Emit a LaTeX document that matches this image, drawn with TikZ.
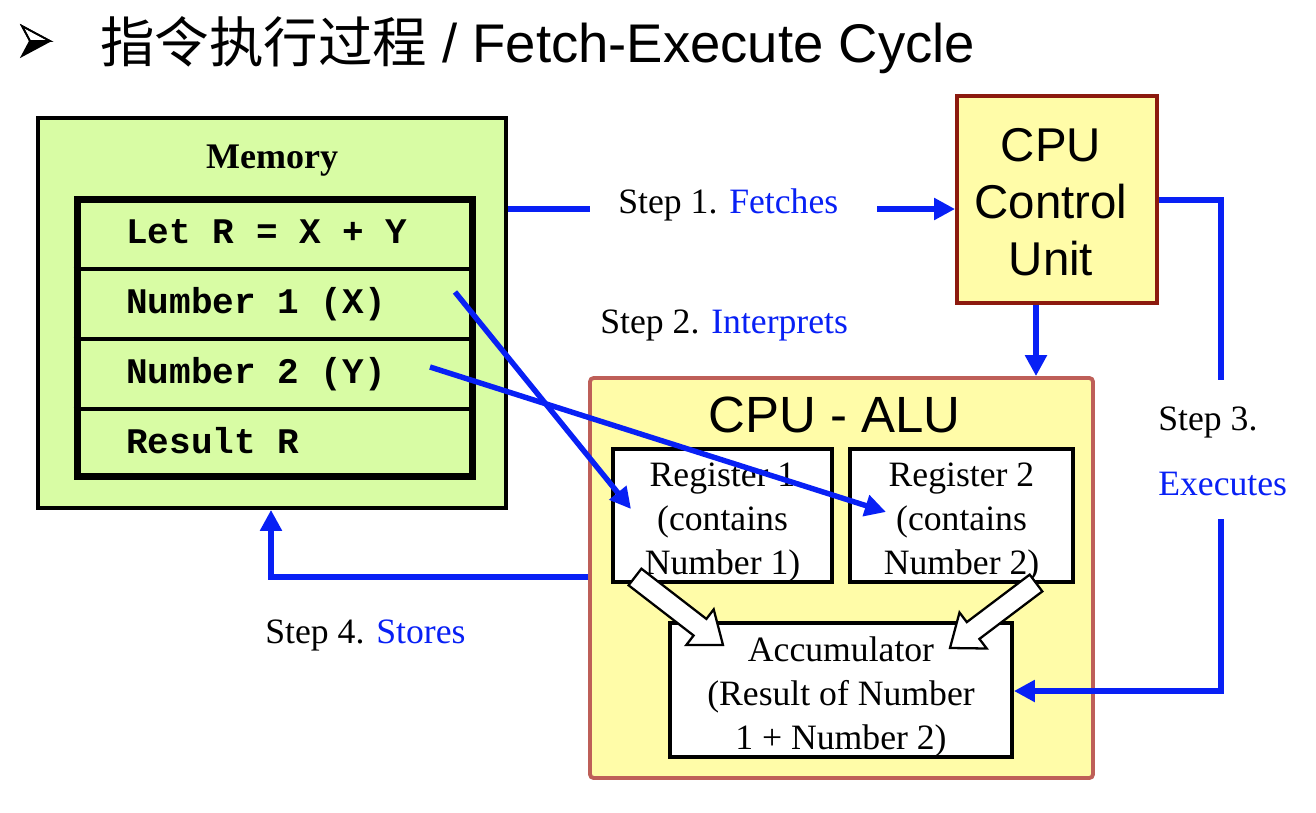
\documentclass[tikz,border=0pt]{standalone}
\usepackage{fontspec}
\setmainfont{Liberation Serif}
\newfontfamily\arialf{Liberation Sans}
\newfontfamily\monof{Liberation Mono}
\newfontfamily\cjkf{Noto Sans CJK SC}
\usetikzlibrary{arrows.meta}
\definecolor{stepblue}{RGB}{8,32,245}
\definecolor{memgreen}{RGB}{216,252,164}
\definecolor{cpuyellow}{RGB}{255,252,168}
\definecolor{cured}{RGB}{140,26,14}
\definecolor{alurose}{RGB}{190,95,88}
\begin{document}
\begin{tikzpicture}[x=0.02cm,y=-0.02cm,
  flow/.style={draw=stepblue, line width=3.1pt},
  flowarrow/.style={flow, -{Triangle[length=12pt,width=12pt]}},
  serif/.style={font=\fontsize{20.3}{25}\selectfont},
  steplabel/.style={serif, anchor=base west, inner sep=0pt},
  rowtext/.style={font=\monof\bfseries\fontsize{20.5}{24}\selectfont, anchor=base west, inner sep=0pt},
  whitebox/.style={draw=black, line width=2.2pt, fill=white, inner sep=0pt},
  boxtext/.style={serif, align=center, yshift=-4pt},
  blockarrow/.style={draw=black, line width=1.3pt, fill=white, line join=miter},
]
\useasboundingbox (0,0) rectangle (1316,812);
\fill[white] (0,0) rectangle (1316,812);

% title bullet (3-D arrowhead)
\coordinate (bt) at (22,26);
\coordinate (bn) at (30,41);
\coordinate (bp) at (50,41);
\coordinate (bb) at (22,56);
\fill[black] (bn) -- (bp) -- (bb) -- cycle;
\draw[black, line width=1pt, fill=white, line join=miter] (bt) -- (bp) -- (bn) -- cycle;
\draw[black, line width=1pt, line join=miter] (bt) -- (bp) -- (bb) -- (bn) -- cycle;
\node[anchor=base west, inner sep=0pt] (title) at (100,62)
  {\fontsize{31}{31}\selectfont\cjkf 指令执行过程\arialf{} / Fetch-Execute Cycle};

% memory
\node[draw=black, line width=2.2pt, fill=memgreen, minimum width=9.36cm, minimum height=7.8cm, inner sep=0pt]
  (mem) at (272,313) {};
\node[font=\bfseries\fontsize{20.5}{24}\selectfont, anchor=base, inner sep=0pt] (memtitle) at (272,168) {Memory};
\node[draw=black, line width=4pt, minimum width=7.92cm, minimum height=5.56cm, inner sep=0pt]
  (tbl) at (275,338) {};
\coordinate (l1) at (0,269);
\coordinate (l2) at (0,339);
\coordinate (l3) at (0,409);
\draw[line width=2.2pt] (tbl.west |- l1) -- (tbl.east |- l1);
\draw[line width=2.2pt] (tbl.west |- l2) -- (tbl.east |- l2);
\draw[line width=2.2pt] (tbl.west |- l3) -- (tbl.east |- l3);
\node[rowtext] (r1) at (126,243) {Let R = X + Y};
\node[rowtext] (r2) at (126,313) {Number 1 (X)};
\node[rowtext] (r3) at (126,383) {Number 2 (Y)};
\node[rowtext] (r4) at (126,453) {Result R};

% control unit
\node[draw=cured, line width=2.2pt, fill=cpuyellow, minimum width=4cm, minimum height=4.14cm, inner sep=0pt]
  (cu) at (1057,199.5) {};
\node[font=\arialf\fontsize{27}{32.5}\selectfont, align=center, inner sep=0pt] (cutxt) at (1051,202)
  {CPU\\Control\\Unit};

% ALU
\node[draw=alurose, line width=2.2pt, fill=cpuyellow, rounded corners=2pt, minimum width=10.06cm, minimum height=8cm, inner sep=0pt]
  (alu) at (841.5,578) {};
\node[font=\arialf\fontsize{29}{32}\selectfont, anchor=base, inner sep=0pt] (alutxt) at (834.5,432) {CPU - ALU};
\node[whitebox, minimum width=4.38cm, minimum height=2.66cm,
  label={[boxtext]center:{Register 1\\(contains\\Number 1)}}] (reg1) at (722.5,515.5) {};
\node[whitebox, minimum width=4.46cm, minimum height=2.66cm,
  label={[boxtext]center:{Register 2\\(contains\\Number 2)}}] (reg2) at (961.5,515.5) {};
\node[whitebox, minimum width=6.84cm, minimum height=2.68cm,
  label={[boxtext]center:{Accumulator\\(Result of Number\\1 + Number 2)}}] (acc) at (841,690) {};

% hollow block arrows
\draw[blockarrow] (628.6,585.3) -- (641.4,568.7) -- (706.4,618.9) -- (713.7,609.4) -- (723,645)
  -- (686.3,645.0) -- (693.6,635.5) -- cycle;
\draw[blockarrow] (1029.7,574.6) -- (1042.3,591.4) -- (979.4,638.9) -- (986.7,648.5) -- (950,648)
  -- (959.5,612.5) -- (966.8,622.1) -- cycle;

% step labels
\node[steplabel] (s1) at (618,213) {Step 1. \textcolor{stepblue}{Fetches}};
\node[steplabel] (s2) at (600,333) {Step 2. \textcolor{stepblue}{Interprets}};
\node[steplabel] (s3a) at (1158,430) {Step 3.};
\node[steplabel] (s3b) at (1158,495) {\textcolor{stepblue}{Executes}};
\node[steplabel] (s4) at (265,643) {Step 4. \textcolor{stepblue}{Stores}};

% step 1
\coordinate (f1) at (590,209);
\coordinate (f2) at (877,209);
\draw[flow] (mem.east |- f1) -- (f1);
\draw[flowarrow] (f2) -- (cu.west |- f2);
% step 2
\coordinate (ix) at (1036,340);
\draw[flowarrow] (cu.south -| ix) -- (alu.north -| ix);
% step 3
\coordinate (e1) at (1221,200);
\coordinate (e2) at (1221,380);
\coordinate (e3) at (1221,519);
\coordinate (e4) at (1221,691);
\draw[flow, line join=miter] (cu.east |- e1) -- (e1) -- (e2);
\draw[flowarrow, line join=miter] (e3) -- (e4) -- (acc.east |- e4);
% step 4
\coordinate (st) at (271,577);
\draw[flowarrow, line join=miter] (alu.west |- st) -- (st) -- (mem.south -| st);
% operand loads
\coordinate (d1) at (455,292);
\coordinate (d1e) at (631,509);
\coordinate (d2) at (430,367);
\coordinate (d2e) at (886,512);
\draw[flowarrow] (d1) -- (d1e);
\draw[flowarrow] (d2) -- (d2e);
\end{tikzpicture}
\end{document}
